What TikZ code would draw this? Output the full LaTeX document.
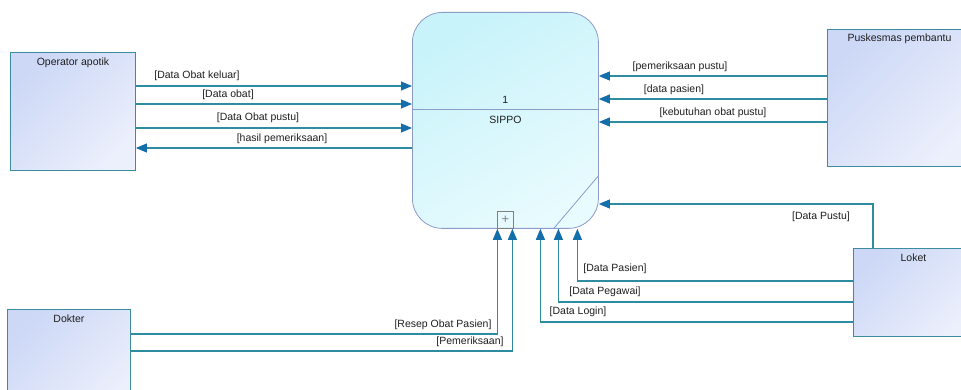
\documentclass[tikz,border=0pt]{standalone}
\usepackage{fontspec}
\setmainfont{Liberation Sans}
\usetikzlibrary{arrows.meta}
\definecolor{linecol}{RGB}{45,140,160}
\definecolor{tipcol}{RGB}{20,110,170}
\definecolor{extline}{RGB}{60,140,160}
\definecolor{exttop}{RGB}{204,216,246}
\definecolor{extbot}{RGB}{236,239,252}
\definecolor{procline}{RGB}{140,155,200}
\definecolor{proctop}{RGB}{200,243,250}
\definecolor{procbot}{RGB}{232,251,254}
\definecolor{txtcol}{RGB}{30,30,30}
\tikzset{
  ext/.style={draw=extline, line width=0.9pt, top color=exttop, bottom color=extbot, shading angle=45, anchor=north west, inner sep=0pt},
  proc/.style={draw=procline, line width=0.8pt, top color=proctop, bottom color=procbot, shading angle=30, rounded corners=30pt, anchor=north west, inner sep=0pt},
  flow/.style={draw=linecol, line width=1.1pt, -{Triangle[length=11pt,width=9pt,color=tipcol]}},
  lbl/.style={font=\fontsize{10.5}{12}\selectfont, text=txtcol, inner sep=0pt},
}
\begin{document}
\begin{tikzpicture}[x=1pt,y=-1pt]
\useasboundingbox (0,0) rectangle (961,390);
\clip (0,0) rectangle (961,390);
% entitas luar
\node[ext, minimum width=125pt, minimum height=118pt] (op) at (10,52) {};
\node[ext, minimum width=144pt, minimum height=137pt] (pus) at (827,29) {};
\node[ext, minimum width=120pt, minimum height=88pt] (lok) at (853,248) {};
\node[ext, minimum width=123pt, minimum height=100pt] (dok) at (7,309) {};
\node[lbl] (tOp) at ([yshift=-11pt]op.north) {Operator apotik};
\node[lbl] (tPus) at ([yshift=-10pt]pus.north) {Puskesmas pembantu};
\node[lbl] (tLok) at ([yshift=-10pt]lok.north) {Loket};
\node[lbl] (tDok) at ([yshift=-10pt]dok.north) {Dokter};
% proses
\node[proc, minimum width=186pt, minimum height=216pt] (proc) at (412,12) {};
\draw[procline, line width=0.8pt] ([yshift=11pt]proc.west) -- ([yshift=11pt]proc.east);
\node[lbl] (tNo) at ([yshift=21pt]proc.center) {1};
\node[lbl] (tSip) at ([yshift=1pt]proc.center) {SIPPO};
\node[draw=gray, line width=0.6pt, minimum width=16pt, minimum height=17pt, inner sep=0pt, anchor=south, text=gray, font=\fontsize{13}{13}\selectfont] (plus) at (proc.south) {+};
\draw[procline, line width=0.8pt] ([xshift=48pt]proc.south) -- ([yshift=-55pt]proc.east);
% aliran data
\draw[flow] (op.east |- 0,86) -- (proc.west |- 0,86);
\draw[flow] (op.east |- 0,104) -- (proc.west |- 0,104);
\draw[flow] (op.east |- 0,128) -- (proc.west |- 0,128);
\draw[flow] (proc.west |- 0,148) -- (op.east |- 0,148);
\draw[flow] (pus.west |- 0,76) -- (proc.east |- 0,76);
\draw[flow] (pus.west |- 0,99) -- (proc.east |- 0,99);
\draw[flow] (pus.west |- 0,122) -- (proc.east |- 0,122);
\draw[flow] ([xshift=20pt]lok.north west) |- (proc.east |- 0,204);
\draw[flow] (lok.west |- 0,281) -| ([xshift=72pt]proc.south);
\draw[flow] (lok.west |- 0,302) -| ([xshift=53pt]proc.south);
\draw[flow] (lok.west |- 0,322) -| ([xshift=35pt]proc.south);
\draw[flow] (dok.east |- 0,334) -| ([xshift=-8pt]proc.south);
\draw[flow] (dok.east |- 0,351) -| ([xshift=7pt]proc.south);
% label aliran
\node[lbl] (l1) at (197,76) {[Data Obat keluar]};
\node[lbl] (l2) at (228,95) {[Data obat]};
\node[lbl] (l3) at (258,118) {[Data Obat pustu]};
\node[lbl] (l4) at (282,139) {[hasil pemeriksaan]};
\node[lbl] (l5) at (680,67) {[pemeriksaan pustu]};
\node[lbl] (l6) at (674,90) {[data pasien]};
\node[lbl] (l7) at (713,113) {[kebutuhan obat pustu]};
\node[lbl] (l8) at (821,217) {[Data Pustu]};
\node[lbl] (l9) at (615,269) {[Data Pasien]};
\node[lbl] (l10) at (605,292) {[Data Pegawai]};
\node[lbl] (l11) at (578,312) {[Data Login]};
\node[lbl] (l12) at (443,325) {[Resep Obat Pasien]};
\node[lbl] (l13) at (470,342) {[Pemeriksaan]};
\end{tikzpicture}
\end{document}
